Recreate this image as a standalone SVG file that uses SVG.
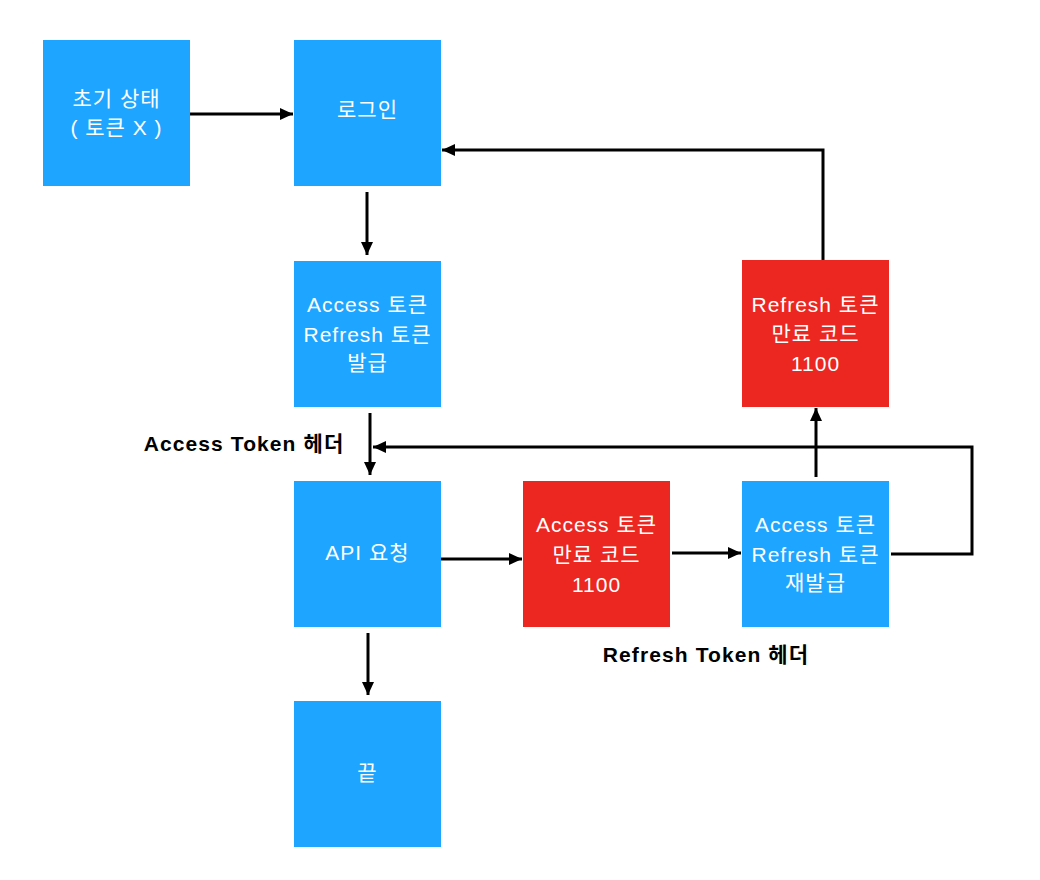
<svg xmlns="http://www.w3.org/2000/svg" width="1040" height="880" viewBox="0 0 1040 880">
<defs>
<style>
.blue{fill:#1ea5ff}
.red{fill:#ec2721}
.t{font-family:"Liberation Sans","Noto Sans CJK KR",sans-serif;font-size:21px;letter-spacing:1px;fill:#ffffff;text-anchor:middle}
.lbl{font-family:"Liberation Sans","Noto Sans CJK KR",sans-serif;font-size:21px;letter-spacing:1.1px;font-weight:bold;fill:#000000;text-anchor:middle}
.c{fill:none;stroke:#000000;stroke-width:3}
</style>
<marker id="ah" markerUnits="userSpaceOnUse" markerWidth="14" markerHeight="14" viewBox="0 0 14 14" refX="13" refY="7" orient="auto">
<path d="M0,1 L13,7 L0,13 Z" fill="#000000"/>
</marker>
</defs>
<rect width="1040" height="880" fill="#ffffff"/>
<g id="connectors">
<line class="c" x1="190" y1="114" x2="293" y2="114" marker-end="url(#ah)"/>
<line class="c" x1="367" y1="192" x2="367" y2="255" marker-end="url(#ah)"/>
<line class="c" x1="370" y1="413" x2="370" y2="475" marker-end="url(#ah)"/>
<line class="c" x1="368" y1="633" x2="368" y2="695" marker-end="url(#ah)"/>
<line class="c" x1="441" y1="559" x2="522" y2="559" marker-end="url(#ah)"/>
<line class="c" x1="672" y1="553" x2="741" y2="553" marker-end="url(#ah)"/>
<line class="c" x1="816" y1="477" x2="816" y2="408" marker-end="url(#ah)"/>
<polyline class="c" points="891,554 972,554 972,447 373,447" marker-end="url(#ah)"/>
<polyline class="c" points="823,260 823,150 442,150" marker-end="url(#ah)"/>
</g>
<g id="n-init"><rect class="blue" x="43" y="40" width="147" height="146"/><text class="t" x="116.5" y="106">초기 상태</text><text class="t" x="116.5" y="135">( 토큰 X )</text></g>
<g id="n-login"><rect class="blue" x="294" y="40" width="147" height="146"/><text class="t" x="367.5" y="117">로그인</text></g>
<g id="n-issue"><rect class="blue" x="294" y="261" width="147" height="146"/><text class="t" x="367.5" y="312">Access 토큰</text><text class="t" x="367.5" y="342">Refresh 토큰</text><text class="t" x="367.5" y="370">발급</text></g>
<g id="n-api"><rect class="blue" x="294" y="481" width="147" height="146"/><text class="t" x="367.5" y="560">API 요청</text></g>
<g id="n-end"><rect class="blue" x="294" y="701" width="147" height="146"/><text class="t" x="367.5" y="780">끝</text></g>
<g id="n-access-exp"><rect class="red" x="523" y="481" width="147" height="146"/><text class="t" x="596.5" y="532">Access 토큰</text><text class="t" x="596.5" y="562">만료 코드</text><text class="t" x="596.5" y="592">1100</text></g>
<g id="n-reissue"><rect class="blue" x="742" y="481" width="147" height="146"/><text class="t" x="815.5" y="532">Access 토큰</text><text class="t" x="815.5" y="562">Refresh 토큰</text><text class="t" x="815.5" y="590">재발급</text></g>
<g id="n-refresh-exp"><rect class="red" x="742" y="260" width="147" height="147"/><text class="t" x="815.5" y="312">Refresh 토큰</text><text class="t" x="815.5" y="341">만료 코드</text><text class="t" x="815.5" y="371">1100</text></g>
<g id="labels"><text class="lbl" x="244" y="451">Access Token 헤더</text><text class="lbl" x="706" y="662">Refresh Token 헤더</text></g>
</svg>
